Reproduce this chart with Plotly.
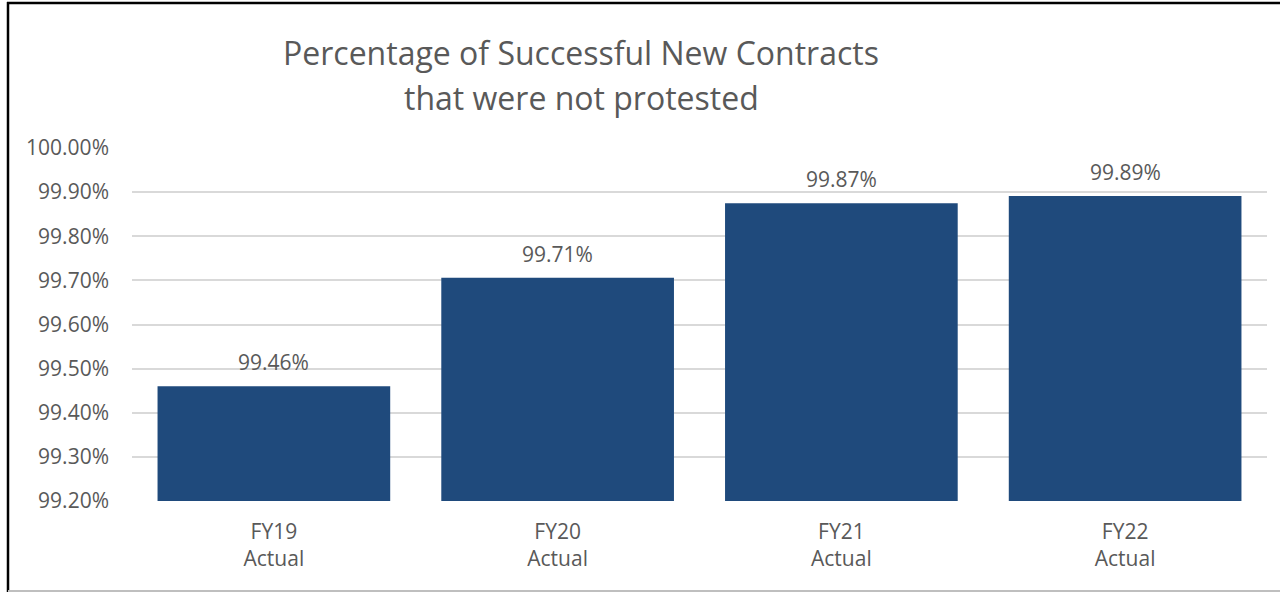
import plotly.graph_objects as go

categories = ["FY19<br>Actual", "FY20<br>Actual", "FY21<br>Actual", "FY22<br>Actual"]
values = [99.46, 99.706, 99.875, 99.891]
labels = ["99.46%", "99.71%", "99.87%", "99.89%"]
tick_vals = [99.2, 99.3, 99.4, 99.5, 99.6, 99.7, 99.8, 99.9, 100.0]
tick_text = ["99.20%", "99.30%", "99.40%", "99.50%", "99.60%", "99.70%", "99.80%", "99.90%", "100.00%"]
title_line1 = "Percentage of Successful New Contracts"
title_line2 = "that were not protested"

BAR = "#1F4A7C"
TXT = "#595959"
FONT = "Open Sans"

W, H = 1280, 592
L, R, T, B = 132, 13, 148, 91
pw, ph = W - L - R, H - T - B

def px_x(x):
    return (x - L) / pw

def px_y(y):
    return (H - B - y) / ph

fig = go.Figure()
fig.add_trace(go.Bar(
    x=categories, y=values, marker=dict(color=BAR, line=dict(width=0)),
    hoverinfo="skip",
))

for c, v, t in zip(categories, values, labels):
    fig.add_annotation(x=c, y=v, text=t, showarrow=False, yanchor="bottom",
                       yshift=8, font=dict(family=FONT, size=21, color=TXT))

fig.add_annotation(text=title_line1, xref="paper", yref="paper",
                   x=px_x(581), y=px_y(52), xanchor="center", yanchor="middle",
                   showarrow=False, font=dict(family=FONT, size=32, color=TXT))
fig.add_annotation(text=title_line2, xref="paper", yref="paper",
                   x=px_x(581), y=px_y(97), xanchor="center", yanchor="middle",
                   showarrow=False, font=dict(family=FONT, size=32, color=TXT))

# outer frame lines
fig.add_shape(type="line", xref="paper", yref="paper", x0=px_x(8), x1=px_x(8),
              y0=px_y(2), y1=px_y(592), line=dict(color="#000000", width=2.5))
fig.add_shape(type="line", xref="paper", yref="paper", x0=px_x(7), x1=px_x(1282),
              y0=px_y(3), y1=px_y(3), line=dict(color="#000000", width=2.5))
fig.add_shape(type="line", xref="paper", yref="paper", x0=px_x(8), x1=px_x(1282),
              y0=px_y(591), y1=px_y(591), line=dict(color="#BFBFBF", width=2))

fig.update_layout(
    width=W, height=H,
    margin=dict(l=L, r=R, t=T, b=B, pad=0),
    paper_bgcolor="white", plot_bgcolor="white",
    bargap=0.18, showlegend=False,
    font=dict(family=FONT, size=21, color=TXT),
    xaxis=dict(showgrid=False, showline=False, ticks="", tickfont=dict(size=21, color=TXT),
               ticklabelstandoff=16, fixedrange=True),
    yaxis=dict(range=[99.2, 100.0], tickvals=tick_vals, ticktext=tick_text,
               showgrid=True, gridcolor="#D9D9D9", gridwidth=2, zeroline=False,
               showline=False, ticks="", ticklabelstandoff=22,
               tickfont=dict(size=21, color=TXT), fixedrange=True),
)

fig.write_html("out.html", config={"displayModeBar": False},
               post_script="document.body.style.margin='0';")
